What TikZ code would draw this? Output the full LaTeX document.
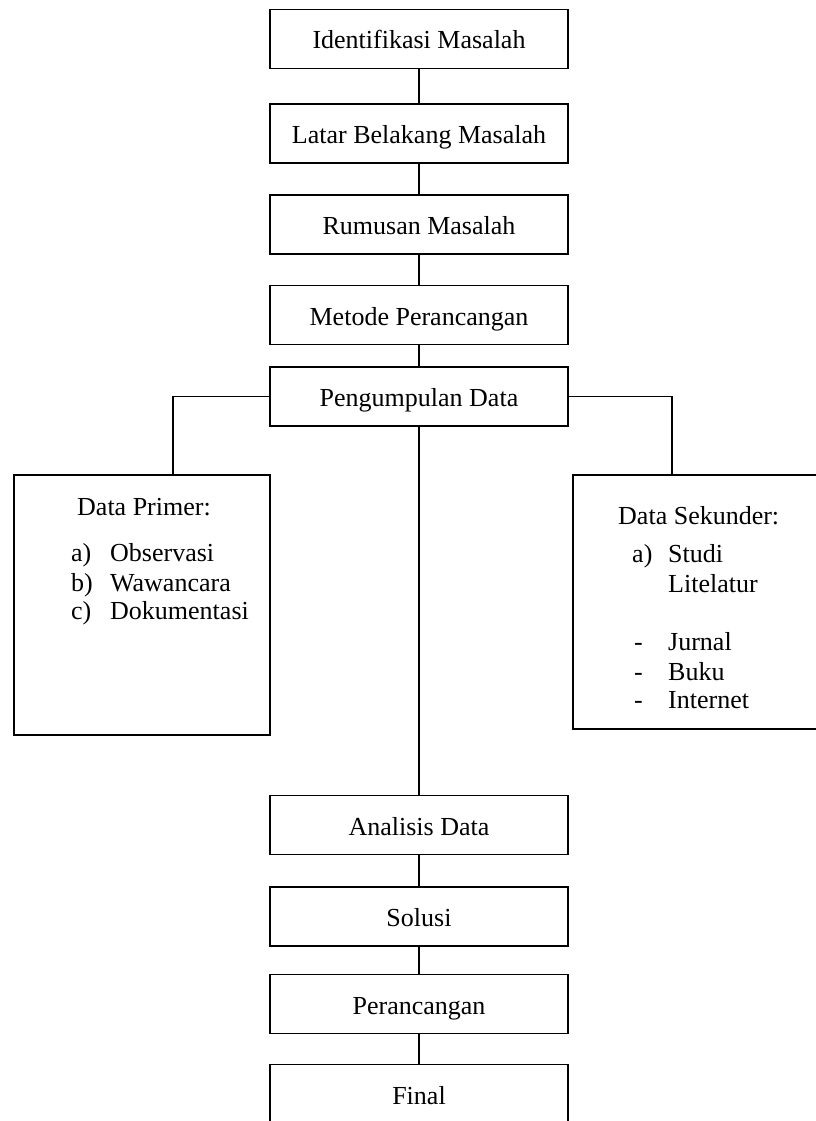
\documentclass[tikz,border=0pt]{standalone}
\usepackage{fontspec}
\setmainfont{Liberation Serif}
\usepackage{tikz}

\tikzset{
    stepbox/.style={rectangle, draw, line width=1.8pt, inner sep=0pt, minimum width=298pt, minimum height=59pt, text height=26pt, text depth=6pt, font=\fontsize{26}{31}\selectfont},
    databox/.style={rectangle, draw, line width=1.8pt, inner sep=0pt},
    itemtext/.style={anchor=base west, inner sep=0pt, font=\fontsize{26}{31}\selectfont},
    link/.style={line width=1.8pt}
}

\begin{document}
\begin{tikzpicture}[x=1pt, y=-1pt]
        \clip (0, 0) rectangle (816, 1121);

        % main steps
        \node[stepbox] (ident) at (419, 39) {Identifikasi Masalah};
        \node[stepbox] (latar) at (419, 133.5) {Latar Belakang Masalah};
        \node[stepbox] (rumusan) at (419, 224.5) {Rumusan Masalah};
        \node[stepbox] (metode) at (419, 315) {Metode Perancangan};
        \node[stepbox] (kumpul) at (419, 396.5) {Pengumpulan Data};
        \node[stepbox] (analisis) at (419, 825) {Analisis Data};
        \node[stepbox] (solusi) at (419, 916.5) {Solusi};
        \node[stepbox] (rancang) at (419, 1004) {Perancangan};
        \node[stepbox] (final) at (419, 1094) {Final};

        % data boxes
        \node[databox, minimum width=256pt, minimum height=260pt] (primer) at (142, 605) {};
        \node[databox, minimum width=297pt, minimum height=254pt] (sekunder) at (721.5, 602) {};

        % Data Primer text
        \node[itemtext] (primerjudul) at (77, 515) {Data Primer:};
        \node[itemtext] (pa) at (71, 561) {a)};
        \node[itemtext] (pobs) at (110, 561) {Observasi};
        \node[itemtext] (pb) at (71, 591) {b)};
        \node[itemtext] (pwaw) at (110, 591) {Wawancara};
        \node[itemtext] (pc) at (71, 619) {c)};
        \node[itemtext] (pdok) at (110, 619) {Dokumentasi};

        % Data Sekunder text
        \node[itemtext] (sekjudul) at (618, 524) {Data Sekunder:};
        \node[itemtext] (sa) at (632, 562) {a)};
        \node[itemtext] (sstudi) at (668, 562) {Studi};
        \node[itemtext] (slit) at (668, 592) {Litelatur};
        \node[itemtext] (sd1) at (634, 650) {-};
        \node[itemtext] (sjur) at (668, 650) {Jurnal};
        \node[itemtext] (sd2) at (634, 680) {-};
        \node[itemtext] (sbuku) at (668, 680) {Buku};
        \node[itemtext] (sd3) at (634, 708) {-};
        \node[itemtext] (sint) at (668, 708) {Internet};

        % connectors
        \draw[link] (ident) -- (latar);
        \draw[link] (latar) -- (rumusan);
        \draw[link] (rumusan) -- (metode);
        \draw[link] (metode) -- (kumpul);
        \draw[link] (kumpul) -- (analisis);
        \draw[link] (analisis) -- (solusi);
        \draw[link] (solusi) -- (rancang);
        \draw[link] (rancang) -- (final);
        \draw[link] (kumpul.west) -| ([xshift=31pt]primer.north);
        \draw[link] (kumpul.east) -| ([xshift=-49.5pt]sekunder.north);
\end{tikzpicture}
\end{document}
